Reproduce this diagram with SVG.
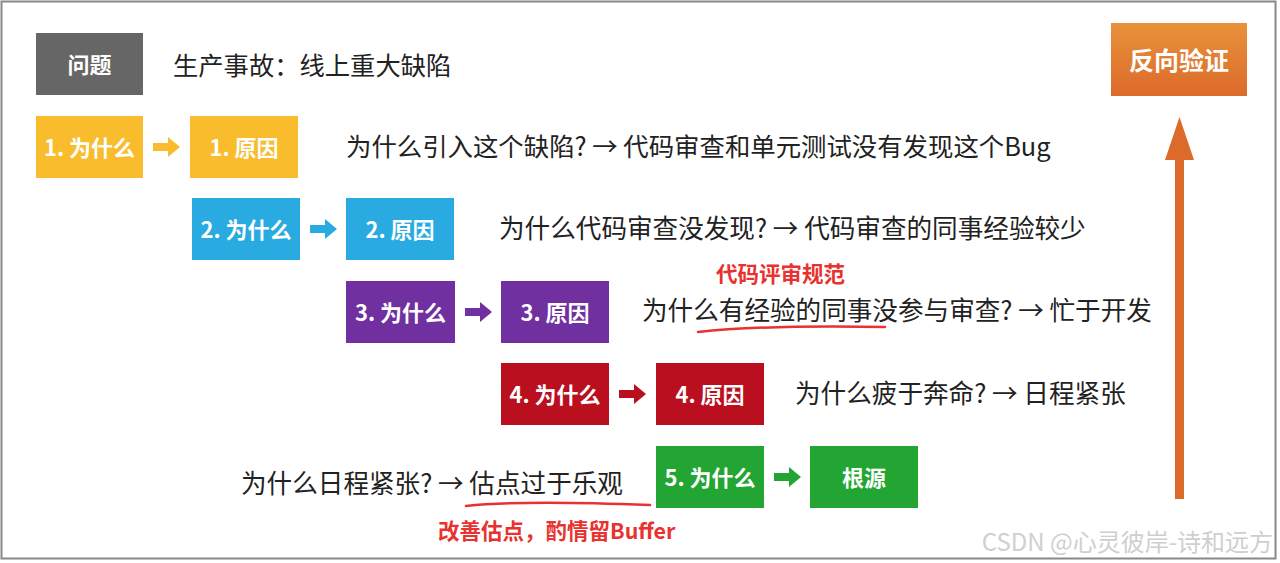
<svg xmlns="http://www.w3.org/2000/svg" width="1280" height="563" viewBox="0 0 1280 563">
<defs>
<linearGradient id="og" x1="0" y1="0" x2="0" y2="1"><stop offset="0" stop-color="#E8923B"/><stop offset="1" stop-color="#DC6A2A"/></linearGradient>
<style>
.lbl{font-family:"Noto Sans CJK SC","Noto Sans",sans-serif;font-weight:bold;font-size:22px;fill:#fff;text-anchor:middle;dominant-baseline:central}
.txt{font-family:"Noto Sans CJK SC","Noto Sans",sans-serif;font-size:25.6px;fill:#222;dominant-baseline:central}
.red{font-family:"Noto Sans CJK SC","Noto Sans",sans-serif;font-weight:bold;font-size:21.5px;fill:#E8322F;dominant-baseline:central}
.y{fill:#F8BC2D}.b{fill:#29ABE2}.p{fill:#7030A0}.r{fill:#BA0F1E}.g{fill:#22A532}
</style>
</defs>
<rect x="0" y="0" width="1280" height="563" fill="#fff"/>
<rect x="1.5" y="1.5" width="1274" height="557" fill="none" stroke="#888" stroke-width="2"/>

<g id="problem"><rect x="36" y="33" width="107" height="62" fill="#666"/><text class="lbl" x="89.5" y="63">问题</text></g>
<text class="txt" x="173" y="64" style="font-size:25.3px">生产事故：线上重大缺陷</text>

<g id="why1"><rect class="y" x="36" y="116" width="107" height="62"/><text class="lbl" x="89.5" y="146">1. 为什么</text></g>
<g id="cause1"><rect class="y" x="190" y="116" width="108" height="62"/><text class="lbl" x="244" y="146">1. 原因</text></g>
<text class="txt" x="346" y="145" style="font-size:25.4px">为什么引入这个缺陷? → 代码审查和单元测试没有发现这个Bug</text>

<g id="why2"><rect class="b" x="192" y="198" width="108" height="62"/><text class="lbl" x="246" y="228">2. 为什么</text></g>
<g id="cause2"><rect class="b" x="346" y="198" width="108" height="62"/><text class="lbl" x="400" y="228">2. 原因</text></g>
<text class="txt" x="499" y="226">为什么代码审查没发现? → 代码审查的同事经验较少</text>

<g id="why3"><rect class="p" x="346" y="281" width="109" height="62"/><text class="lbl" x="400.5" y="311">3. 为什么</text></g>
<g id="cause3"><rect class="p" x="501" y="281" width="108" height="62"/><text class="lbl" x="555" y="311">3. 原因</text></g>
<text class="red" x="716" y="272">代码评审规范</text>
<text class="txt" x="642" y="308">为什么有经验的同事没参与审查? → 忙于开发</text>
<path d="M698 332 Q760 325 885 327" fill="none" stroke="#E8322F" stroke-width="2.5" stroke-linecap="round"/>

<g id="why4"><rect class="r" x="501" y="363" width="108" height="62"/><text class="lbl" x="555" y="393">4. 为什么</text></g>
<g id="cause4"><rect class="r" x="656" y="363" width="108" height="62"/><text class="lbl" x="710" y="393">4. 原因</text></g>
<text class="txt" x="795" y="391">为什么疲于奔命? → 日程紧张</text>

<text class="txt" x="241" y="481">为什么日程紧张? → 估点过于乐观</text>
<g id="why5"><rect class="g" x="656" y="446" width="108" height="62"/><text class="lbl" x="710" y="476">5. 为什么</text></g>
<g id="root"><rect class="g" x="810" y="446" width="108" height="62"/><text class="lbl" x="864" y="476">根源</text></g>
<path d="M466 506 Q520 500 650 505" fill="none" stroke="#E8322F" stroke-width="2.5" stroke-linecap="round"/>
<text class="red" x="438" y="529">改善估点，酌情留Buffer</text>

<g id="verify"><rect x="1111" y="23" width="136" height="73" fill="url(#og)"/><text class="lbl" x="1179" y="59" style="font-size:25px">反向验证</text></g>

<g id="connectors">
<path d="M153 143h15v-6l12 10l-12 10v-6h-15z" class="y"/>
<path d="M310 225h15v-6l12 10l-12 10v-6h-15z" class="b"/>
<path d="M465 308h15v-6l12 10l-12 10v-6h-15z" class="p"/>
<path d="M619 390h15v-6l12 10l-12 10v-6h-15z" class="r"/>
<path d="M774 473h15v-6l12 10l-12 10v-6h-15z" class="g"/>
<path d="M1175 499V160h-10l14.5-43l14.5 43h-10v339z" fill="#DC6A2A"/>
</g>

<text x="1273" y="540" text-anchor="end" style="font-family:'Noto Sans CJK SC','Liberation Sans',sans-serif;font-size:24px;fill:#cfcfcf;dominant-baseline:central">CSDN @心灵彼岸-诗和远方</text>
</svg>
